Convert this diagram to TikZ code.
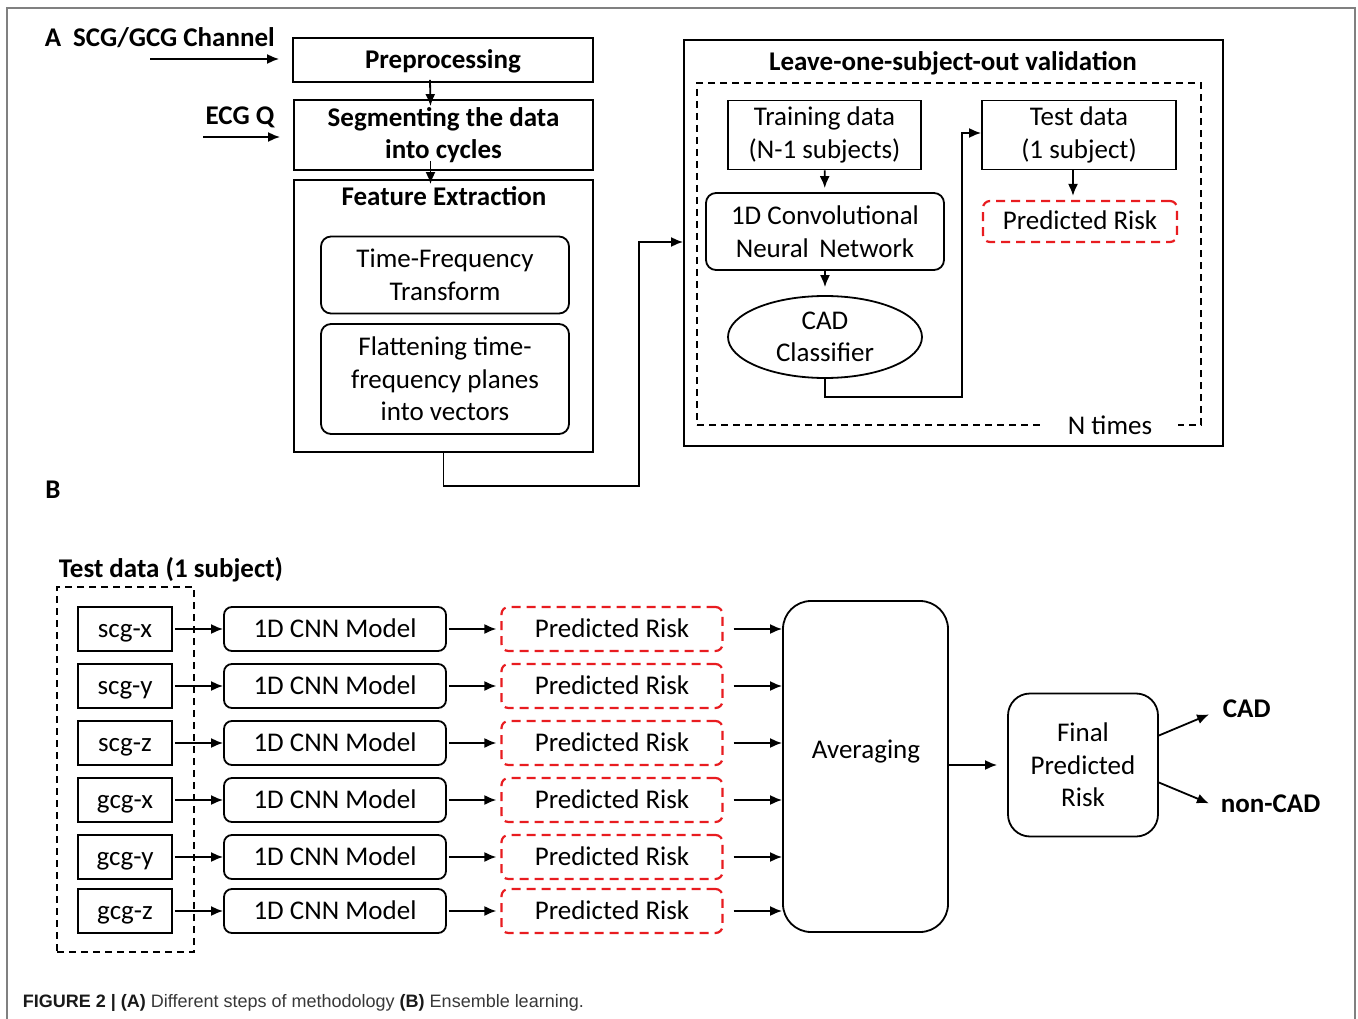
\documentclass[tikz,border=0pt]{standalone}
\usepackage{fontspec}
\setmainfont{Carlito}
\newfontfamily\capfont{Liberation Sans}
\usepackage{tikz}
\usetikzlibrary{positioning,shapes,arrows.meta,calc}

\definecolor{riskred}{RGB}{232,28,32}
\definecolor{framegray}{RGB}{128,128,128}
\newcommand\fs{\fontsize{27}{32.5}\selectfont}

\begin{document}
\begin{tikzpicture}[x=1pt, y=-1pt, line width=1.8pt,
  box/.style={draw, inner sep=0pt, align=center, font=\fs},
  rbox/.style={box, rounded corners=10pt},
  oneline/.style={text height=17pt, text depth=0pt},
  riskbox/.style={box, oneline, draw=riskred, dash pattern=on 9pt off 6pt, rounded corners=7pt, line width=2.2pt},
  lbl/.style={inner sep=0pt, align=center, font=\fs\bfseries},
  dbox/.style={draw, dash pattern=on 7pt off 5pt, line width=1.5pt, inner sep=0pt},
  arr/.style={-{Latex[length=12pt,width=10pt]}},
  sbox/.style={box, oneline, minimum width=94pt, minimum height=44pt},
  cnnbox/.style={rbox, oneline, rounded corners=8pt, minimum width=222pt, minimum height=44pt}]

\fill[white] (0,0) rectangle (1358,1019);
\useasboundingbox (0,0) rectangle (1358,1019);
\draw[framegray, line width=2.5pt] (7,1019) -- (7,8) -- (1355,8) -- (1355,1019);

% part A
\node[lbl] (panela) at (53,38) {A};
\node[lbl] (chan) at (174,38) {SCG/GCG Channel};
\node[lbl] (ecg) at (240,117) {ECG Q};
\node[box, oneline, font=\fs\bfseries, minimum width=300pt, minimum height=44pt] (pre) at (443,60) {Preprocessing};
\node[box, font=\fs\bfseries, minimum width=299pt, minimum height=70pt] (seg) at (443.5,135) {Segmenting the data\\into cycles};
\node[box, minimum width=299pt, minimum height=272pt] (feat) at (443.5,316) {};
\node[lbl] (feattitle) at (444,196) {Feature Extraction};
\node[rbox, minimum width=248pt, minimum height=77pt] (tft) at (445,275) {Time-Frequency\\Transform};
\node[rbox, minimum width=248pt, minimum height=110pt] (flat) at (445,379) {Flattening time-\\frequency planes\\into vectors};

\coordinate (chanin) at (150,59);
\coordinate (ecgin) at (203,137);
\draw[arr, shorten >=13pt] (chanin) -- (chanin -| pre.west);
\draw[arr, shorten >=13pt] (ecgin) -- (ecgin -| seg.west);
\draw[arr] ([xshift=-13pt,yshift=3pt]pre.south) -- ([xshift=-13pt,yshift=-7pt]seg.north);
\draw[arr] ([xshift=-13pt,yshift=10pt]seg.south) -- ([xshift=-13pt,yshift=-5pt]feat.north);

% validation loop
\node[box, minimum width=539pt, minimum height=406pt] (val) at (953.5,243) {};
\node[lbl] (valtitle) at (953,63) {Leave-one-subject-out validation};
\node[dbox, minimum width=504pt, minimum height=342pt] (loop) at (949,254) {};
\node[fill=white, inner sep=0pt, font=\fs, minimum width=136pt, minimum height=14pt] (ntimes) at (1110,425) {N times};
\node[box, minimum width=193pt, minimum height=69pt] (train) at (824.5,135) {Training data\\(N-1 subjects)};
\node[rbox, minimum width=238pt, minimum height=77pt] (cnn) at (825,231.5) {1D Convolutional\\Neural\, Network};
\node[box, ellipse, minimum width=194pt, minimum height=82pt] (cad) at (825,337) {CAD\\Classifier};
\node[box, minimum width=194pt, minimum height=69pt] (test) at (1079,135) {Test data\\(1 subject)};
\node[riskbox, minimum width=194pt, minimum height=41pt] (risk) at (1080,221.5) {Predicted Risk};

\coordinate (bend) at (639,242);
\coordinate (up) at (962,133);
\draw[arr] (feat.south) -- ++(0,33) -| (bend) -- (bend -| val.west);
\draw[arr, shorten >=4pt] (train) -- (cnn);
\draw[arr, shorten >=8pt] (cnn) -- (cad);
\draw[arr] (cad.south) -- ++(0,18) -| (up) -- (up -| test.west);
\draw[arr, shorten >=4pt] ([xshift=-6pt]test.south) -- ([xshift=-7pt]risk.north);

% part B
\node[lbl] (panelb) at (53,490) {B};
\node[lbl] (testtitle) at (171,570) {Test data (1 subject)};
\node[dbox, minimum width=137pt, minimum height=365pt] (testset) at (125.5,769.5) {};
\node[rbox, rounded corners=28pt, minimum width=165pt, minimum height=331pt] (avg) at (865.5,766.5) {};
\node[inner sep=0pt, font=\fs] (avgtxt) at (866,752) {Averaging};
\node[rbox, rounded corners=22pt, minimum width=150pt, minimum height=143pt] (fin) at (1083,765) {Final\\Predicted\\Risk};
\node[lbl, anchor=west] (cadout) at (1222,709) {CAD};
\node[lbl, anchor=west] (noncad) at (1220,804) {non-CAD};

\foreach \sname/\yy [count=\i] in {scg-x/629,scg-y/686,scg-z/743,gcg-x/800,gcg-y/857,gcg-z/911}{
  \node[sbox] (s\i) at (125,\yy) {\sname};
  \node[cnnbox] (c\i) at (335,\yy) {1D CNN Model};
  \node[riskbox, minimum width=221pt, minimum height=44pt] (r\i) at (612,\yy) {Predicted Risk};
  \draw[arr, shorten <=2pt] (s\i) -- (c\i);
  \draw[arr, shorten <=2pt, shorten >=4pt] (c\i) -- (r\i);
  \draw[arr, shorten <=10pt] (r\i.east) -- (r\i.east -| avg.west);
}

\draw[arr, shorten >=10pt] (avg.east |- fin.west) -- (fin.west);
\draw[arr, shorten >=14pt] ([yshift=29.5pt]fin.east) -- (cadout.west);
\draw[arr, shorten >=12pt] ([yshift=-17.5pt]fin.east) -- ([yshift=-4pt]noncad.west);

% caption
\node[anchor=base west, inner sep=0pt, text=black!78, font=\capfont\fontsize{18}{20}\selectfont] (cap) at (22,1007)
  {\textbf{\color{black!90}FIGURE 2 | (A)} Different steps of methodology \textbf{\color{black!90}(B)} Ensemble learning.};

\end{tikzpicture}
\end{document}
